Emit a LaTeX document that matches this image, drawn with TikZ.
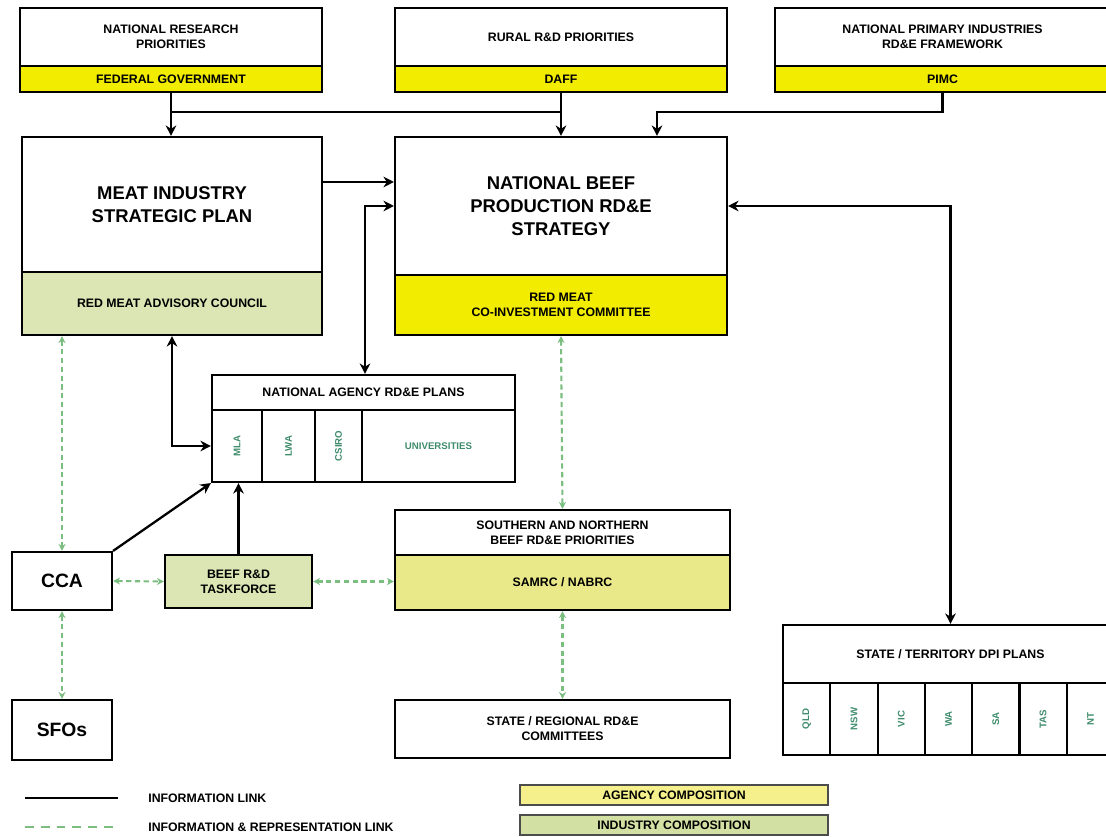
\documentclass[tikz,border=0pt]{standalone}
\usepackage{fontspec}
\setsansfont{Liberation Sans}
\usetikzlibrary{arrows.meta}
\definecolor{agencyyellow}{HTML}{F2EC00}
\definecolor{industrygreen}{HTML}{DCE6B4}
\definecolor{mixband}{HTML}{EAE98A}
\definecolor{linkgreen}{HTML}{7CBE80}
\definecolor{celltext}{HTML}{3F8C6C}
\definecolor{legyellow}{HTML}{F6F08C}
\definecolor{leggreen}{HTML}{D2E0A4}

\begin{document}
\begin{tikzpicture}[x=0.02cm, y=-0.02cm,
    every node/.style={font=\sffamily\bfseries\fontsize{7}{8.5}\selectfont, align=center, inner sep=0pt},
    box/.style={draw, line width=1.2pt, fill=white},
    agencyband/.style={box, fill=agencyyellow},
    industryband/.style={box, fill=industrygreen},
    cell/.style={box, text=celltext, font=\sffamily\bfseries\fontsize{5.5}{6}\selectfont},
    bigtext/.style={font=\sffamily\bfseries\fontsize{10.5}{13}\selectfont},
    infolink/.style={line width=1.6pt, -{Stealth[length=6pt,width=6pt]}},
    replink/.style={draw=linkgreen, line width=1.2pt, dash pattern=on 3pt off 2pt,
        {Stealth[length=4pt,width=4pt]}-{Stealth[length=4pt,width=4pt]}}]
    \useasboundingbox (0,0) rectangle (1106,837);

    % top row
    \node[box, minimum width=6.04cm, minimum height=1.16cm] (natres) at (171,37) {NATIONAL RESEARCH\\PRIORITIES};
    \node[agencyband, minimum width=6.04cm, minimum height=0.52cm] (natresb) at (171,79) {FEDERAL GOVERNMENT};
    \node[box, minimum width=6.64cm, minimum height=1.16cm] (rural) at (561,37) {RURAL R\&D PRIORITIES};
    \node[agencyband, minimum width=6.64cm, minimum height=0.52cm] (ruralb) at (561,79) {DAFF};
    \node[box, minimum width=6.7cm, minimum height=1.16cm] (npi) at (942.5,37) {NATIONAL PRIMARY INDUSTRIES\\RD\&E FRAMEWORK};
    \node[agencyband, minimum width=6.7cm, minimum height=0.52cm] (npib) at (942.5,79) {PIMC};

    % strategy boxes
    \node[box, bigtext, minimum width=6cm, minimum height=2.7cm] (misp) at (172,204.5) {MEAT INDUSTRY\\STRATEGIC PLAN};
    \node[industryband, minimum width=6cm, minimum height=1.26cm] (rmac) at (172,303.5) {RED MEAT ADVISORY COUNCIL};
    \node[box, bigtext, minimum width=6.64cm, minimum height=2.76cm] (nbps) at (561,206) {NATIONAL BEEF\\PRODUCTION RD\&E\\STRATEGY};
    \node[agencyband, minimum width=6.64cm, minimum height=1.2cm] (rmcc) at (561,305) {RED MEAT\\CO-INVESTMENT COMMITTEE};

    % national agency plans
    \node[box, minimum width=6.06cm, minimum height=0.7cm] (agency) at (363.5,392.5) {NATIONAL AGENCY RD\&E PLANS};
    \node[cell, minimum width=1cm, minimum height=1.44cm] (mla) at (237,446) {\rotatebox{90}{MLA}};
    \node[cell, minimum width=1.06cm, minimum height=1.44cm] (lwa) at (288.5,446) {\rotatebox{90}{LWA}};
    \node[cell, minimum width=0.94cm, minimum height=1.44cm] (csiro) at (338.5,446) {\rotatebox{90}{CSIRO}};
    \node[cell, minimum width=3.06cm, minimum height=1.44cm] (univ) at (438.5,446) {UNIVERSITIES};

    % regional
    \node[box, minimum width=6.7cm, minimum height=0.9cm] (snb) at (562.5,532.5) {SOUTHERN AND NORTHERN\\BEEF RD\&E PRIORITIES};
    \node[box, fill=mixband, minimum width=6.7cm, minimum height=1.1cm] (samrc) at (562.5,582.5) {SAMRC / NABRC};
    \node[box, minimum width=6.7cm, minimum height=1.16cm] (srrc) at (562.5,729) {STATE / REGIONAL RD\&E\\COMMITTEES};

    % industry side
    \node[box, font=\sffamily\bfseries\fontsize{11}{13}\selectfont, minimum width=2cm, minimum height=1.16cm] (cca) at (62,581) {CCA};
    \node[industryband, minimum width=2.94cm, minimum height=1.06cm] (taskforce) at (238.5,581.5) {BEEF R\&D\\TASKFORCE};
    \node[box, font=\sffamily\bfseries\fontsize{11}{13}\selectfont, minimum width=2cm, minimum height=1.2cm] (sfos) at (62,730) {SFOs};

    % state / territory plans
    \node[box, minimum width=6.7cm, minimum height=1.16cm] (dpi) at (950.5,654) {STATE / TERRITORY DPI PLANS};
    \foreach \st [count=\i from 0] in {QLD,NSW,VIC,WA,SA,TAS,NT}
        \node[cell, minimum width=0.946cm, minimum height=1.44cm] (dpi\i) at (806.65+47.3*\i,719) {\rotatebox{90}{\st}};

    % information links
    \coordinate (jtop) at (171,112);
    \coordinate (jpimc) at (657,112);
    \coordinate (jmeat) at (0,182);
    \coordinate (jagency) at (365,0);
    \draw[infolink] (natresb.south) -- (natresb.south |- misp.north);
    \draw[line width=1.6pt] (jtop) -- (jtop -| ruralb.south);
    \draw[infolink] (ruralb.south) -- (nbps.north);
    \draw[infolink] (npib.south) |- (jpimc) -- (jpimc |- nbps.north);
    \draw[infolink] (misp.east |- jmeat) -- (nbps.west |- jmeat);
    \draw[infolink, {Stealth[length=6pt,width=6pt]}-{Stealth[length=6pt,width=6pt]}] (nbps.west) -| (jagency |- agency.north);
    \draw[infolink, {Stealth[length=6pt,width=6pt]}-{Stealth[length=6pt,width=6pt]}] (rmac.south) |- (mla.west);
    \draw[infolink, {Stealth[length=6pt,width=6pt]}-{Stealth[length=6pt,width=6pt]}] (nbps.east) -| (dpi.north);
    \draw[infolink] (taskforce.north) -- (taskforce.north |- mla.south);
    \draw[infolink, line width=1.3pt] (cca.north east) -- (mla.south west);

    % information & representation links
    \draw[replink] (rmac.south -| cca.north) -- (cca.north);
    \draw[replink] (rmcc.south) -- (snb.north);
    \draw[replink] (cca.east) -- (taskforce.west);
    \draw[replink] (taskforce.east) -- (samrc.west |- taskforce.east);
    \draw[replink] (cca.south) -- (sfos.north);
    \draw[replink] (samrc.south) -- (srrc.north);

    % legend
    \coordinate (lega) at (25,798);
    \coordinate (legb) at (118,798);
    \coordinate (legc) at (25,827);
    \coordinate (legd) at (118,827);
    \draw[line width=1.6pt] (lega) -- (legb);
    \draw[draw=linkgreen, line width=1.2pt, dash pattern=on 5pt off 4pt] (legc) -- (legd);
    \node[anchor=west] (leginfo) at (148,798) {INFORMATION LINK};
    \node[anchor=west] (legrep) at (148,827) {INFORMATION \& REPRESENTATION LINK};
    \node[draw=black!70, line width=1pt, fill=legyellow, minimum width=6.16cm, minimum height=0.4cm] (legagency) at (674,795) {AGENCY COMPOSITION};
    \node[draw=black!70, line width=1pt, fill=leggreen, minimum width=6.16cm, minimum height=0.4cm] (legindustry) at (674,825) {INDUSTRY COMPOSITION};
\end{tikzpicture}
\end{document}
